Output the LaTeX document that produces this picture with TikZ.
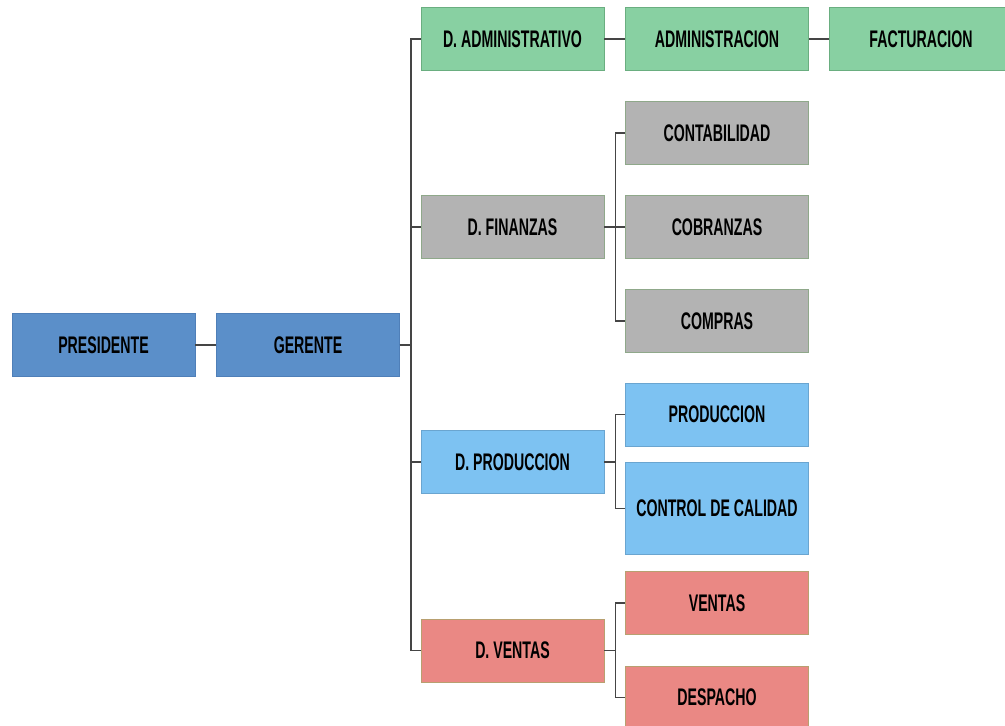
\documentclass[tikz,border=0pt]{standalone}
\usepackage{fontspec}
\setmainfont[FakeStretch=0.59]{Liberation Sans}
\definecolor{presblue}{HTML}{5B8FC9}
\definecolor{presedge}{HTML}{4F7FB8}
\definecolor{admgreen}{HTML}{88D0A2}
\definecolor{admedge}{HTML}{6AAE80}
\definecolor{fingray}{HTML}{B3B3B3}
\definecolor{finedge}{HTML}{8FA88A}
\definecolor{prodblue}{HTML}{7DC2F2}
\definecolor{prodedge}{HTML}{6AA5D0}
\definecolor{ventred}{HTML}{EA8884}
\definecolor{ventedge}{HTML}{B8A070}
\definecolor{wire}{HTML}{454545}
\tikzset{
  unit/.style={rectangle, minimum width=183pt, minimum height=63pt, inner sep=0pt,
    line width=0.9pt, font=\fontsize{24}{24}\selectfont\bfseries, text=black},
  top/.style={unit, fill=presblue, draw=presedge},
  adm/.style={unit, fill=admgreen, draw=admedge},
  fin/.style={unit, fill=fingray, draw=finedge},
  prd/.style={unit, fill=prodblue, draw=prodedge},
  vnt/.style={unit, fill=ventred, draw=ventedge},
  link/.style={draw=wire, line width=1.6pt}
}
\begin{document}
\begin{tikzpicture}[x=1pt, y=-1pt]
\clip (0,0) rectangle (1005,726);
\fill[white] (0,0) rectangle (1005,726);

% top level
\node[top] (pres) at (103.5,345) {PRESIDENTE};
\node[top] (ger) at (308,345) {GERENTE};

% departments
\node[adm] (dadm) at (512.5,39) {D. ADMINISTRATIVO};
\node[fin] (dfin) at (512.5,227) {D. FINANZAS};
\node[prd] (dprod) at (512.5,462) {D. PRODUCCION};
\node[vnt] (dvent) at (512.5,650.5) {D. VENTAS};

% areas
\node[adm] (adm) at (717,39) {ADMINISTRACION};
\node[adm] (fac) at (921,39) {FACTURACION};
\node[fin] (cont) at (717,133) {CONTABILIDAD};
\node[fin] (cob) at (717,227) {COBRANZAS};
\node[fin] (comp) at (717,321) {COMPRAS};
\node[prd] (prod) at (717,414.5) {PRODUCCION};
\node[prd, minimum height=92pt] (ctrl) at (717,508.5) {CONTROL DE CALIDAD};
\node[vnt] (vent) at (717,603) {VENTAS};
\node[vnt] (desp) at (717,697.5) {DESPACHO};

% connectors
\draw[link] (pres) -- (ger);
\foreach \d in {dadm,dfin,dprod,dvent}
  \draw[link] (ger.east) -- ++(11,0) |- (\d.west);
\draw[link] (dadm) -- (adm);
\draw[link] (adm) -- (fac);
\foreach \d in {cont,cob,comp}
  \draw[link] (dfin.east) -- ++(11,0) |- (\d.west);
\foreach \d in {prod,ctrl}
  \draw[link] (dprod.east) -- ++(11,0) |- (\d.west);
\foreach \d in {vent,desp}
  \draw[link] (dvent.east) -- ++(11,0) |- (\d.west);
\end{tikzpicture}
\end{document}
